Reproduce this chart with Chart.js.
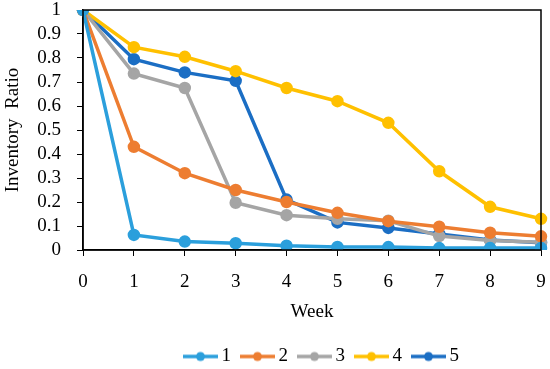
<!DOCTYPE html>
<html lang="en">
<head>
    <meta charset="UTF-8">
    <title>Inventory Ratio by Week</title>
    <script src="https://cdn.jsdelivr.net/npm/chart.js"></script>
    <style>
        body { margin: 0; background: #fff; }
        #wrap { width: 550px; height: 369px; }
    </style>
</head>
<body>
    <div id="wrap"><canvas id="myChart" width="550" height="369"></canvas></div>

    <script>
        const weeks = ['0', '1', '2', '3', '4', '5', '6', '7', '8', '9'];
        const seriesNames = ['1', '2', '3', '4', '5'];
        const s1 = [1, 0.063, 0.035, 0.028, 0.018, 0.013, 0.012, 0.008, 0.008, 0.008];
        const s2 = [1, 0.43, 0.32, 0.25, 0.2, 0.155, 0.12, 0.097, 0.072, 0.057];
        const s3 = [1, 0.735, 0.675, 0.197, 0.145, 0.13, 0.122, 0.058, 0.04, 0.032];
        const s4 = [1, 0.845, 0.805, 0.745, 0.675, 0.62, 0.53, 0.328, 0.18, 0.13];
        const s5 = [1, 0.795, 0.74, 0.705, 0.21, 0.115, 0.092, 0.067, 0.042, 0.03];
        const colors = ['#2b9fdc', '#ed7d31', '#a5a5a5', '#ffc000', '#1b6ec4'];

        const allSeries = [s1, s2, s3, s4, s5];
        const serif = "'Liberation Serif', 'DejaVu Serif', serif";

        // little line+dot icon for each legend entry
        function legendIcon(color) {
            const c = document.createElement('canvas');
            c.width = 35; c.height = 12;
            const g = c.getContext('2d');
            g.strokeStyle = color;
            g.lineWidth = 3.5;
            g.beginPath();
            g.moveTo(0, 6);
            g.lineTo(35, 6);
            g.stroke();
            g.fillStyle = color;
            g.beginPath();
            g.arc(17.5, 6, 4.5, 0, Math.PI * 2);
            g.fill();
            return c;
        }

        // box round the plot, and legend moved under the plot area
        const frame = {
            id: 'frame',
            afterLayout(chart) {
                const a = chart.chartArea;
                const lg = chart.legend;
                lg.left = a.left + 12;
                lg.right = a.right + 12;
                lg.width = a.right - a.left;
                lg.top += 7;
                lg.bottom += 7;
            },
            afterDraw(chart) {
                const a = chart.chartArea;
                const ctx = chart.ctx;
                ctx.save();
                ctx.strokeStyle = '#000';
                ctx.lineWidth = 1.5;
                ctx.strokeRect(a.left, a.top, a.right - a.left, a.bottom - a.top);
                ctx.restore();
            }
        };

        const ctx = document.getElementById('myChart').getContext('2d');
        new Chart(ctx, {
            type: 'line',
            data: {
                labels: weeks,
                datasets: allSeries.map((d, i) => ({
                    label: seriesNames[i],
                    data: d,
                    borderColor: colors[i],
                    backgroundColor: colors[i],
                    borderWidth: 3.5,
                    pointRadius: 4.5,
                    pointStyle: 'circle',
                    tension: 0
                }))
            },
            options: {
                responsive: false,
                animation: false,
                layout: { padding: { left: 0, right: 9, top: 10, bottom: 0 } },
                plugins: {
                    legend: {
                        position: 'bottom',
                        labels: {
                            color: '#000',
                            font: { family: serif, size: 19 },
                            usePointStyle: true,
                            pointStyleWidth: 23,
                            boxHeight: 12,
                            padding: 15,
                            generateLabels(chart) {
                                return chart.data.datasets.map((ds, i) => ({
                                    text: ds.label,
                                    pointStyle: legendIcon(colors[i]),
                                    fillStyle: colors[i],
                                    strokeStyle: colors[i],
                                    lineWidth: 0,
                                    hidden: false,
                                    datasetIndex: i
                                }));
                            }
                        }
                    },
                    tooltip: { enabled: false }
                },
                scales: {
                    x: {
                        offset: false,
                        afterFit: s => { s.height = 75; s.paddingLeft = 0; s.paddingRight = 0; },
                        grid: { display: true, drawOnChartArea: false, drawTicks: true, tickLength: 6, color: '#000' },
                        border: { color: '#000', width: 1.5 },
                        ticks: { color: '#000', font: { family: serif, size: 19 }, padding: 15, maxRotation: 0, autoSkip: false },
                        title: { display: true, text: 'Week', color: '#000', font: { family: serif, size: 19 }, padding: { top: 6, bottom: 2 } }
                    },
                    y: {
                        min: 0,
                        max: 1,
                        afterFit: s => { s.width = 83; s.paddingTop = 0; s.paddingBottom = 0; },
                        grid: { display: true, drawOnChartArea: false, drawTicks: true, tickLength: 6, color: '#000' },
                        border: { color: '#000', width: 1.5 },
                        ticks: {
                            stepSize: 0.1,
                            autoSkip: false,
                            color: '#000',
                            font: { family: serif, size: 19 },
                            padding: 16,
                            callback: v => (v === 0 || v === 1) ? String(v) : v.toFixed(1)
                        },
                        title: { display: true, text: 'Inventory  Ratio', color: '#000', font: { family: serif, size: 19 }, padding: { top: 2, bottom: 0 } }
                    }
                }
            },
            plugins: [frame]
        });
    </script>
</body>
</html>
